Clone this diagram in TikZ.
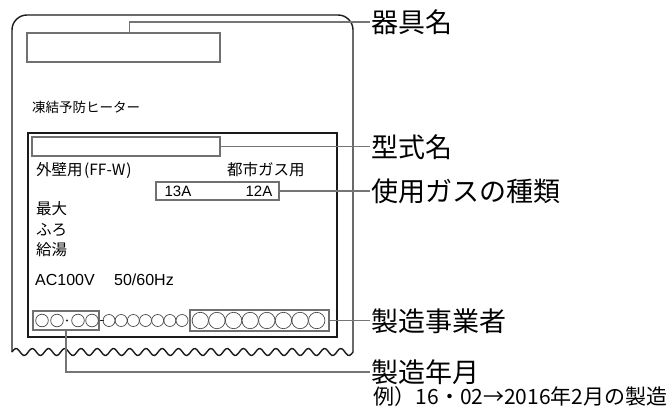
\documentclass[tikz,border=0pt]{standalone}
\usepackage{fontspec}
\setmainfont{Noto Sans CJK JP}
\newfontfamily\arial{Liberation Sans}
\usetikzlibrary{positioning}
\definecolor{ink}{HTML}{1A1A1A}
\definecolor{boxgray}{HTML}{707070}
\definecolor{leadgray}{HTML}{757575}

\begin{document}
\begin{tikzpicture}[x=1pt, y=-1pt,
  plate/.style = {draw=ink, line width=1.4pt},
  field/.style = {draw=boxgray, line width=1.2pt, inner sep=0pt},
  lead/.style = {draw=leadgray, line width=1.2pt},
  dig/.style = {draw=ink!80, line width=0.7pt},
  lbl/.style = {anchor=west, inner sep=1.5pt, font=\fontsize{27}{30}\selectfont},
  small/.style = {anchor=west, inner sep=0pt, font=\fontsize{15.5}{17}\selectfont}]
\useasboundingbox (0,0) rectangle (671,412);

% plate outline with torn bottom edge
\draw[plate] (12,352) -- (12,30) arc[start angle=180, end angle=270, radius=15]
  -- (338,15) arc[start angle=270, end angle=360, radius=15] -- (353,352);
\draw[plate] plot[domain=12:353, samples=200, smooth] (\x, {352-3.5*sin(22.17*(\x-12))});
\draw[ink, line width=1.8pt] (28,133) rectangle (337,337);

% fields on the plate
\node[field, minimum width=193, minimum height=29] (namebox) at (123.5,47.5) {};
\node[small, font=\fontsize{13.5}{15}\selectfont] (heater) at (32,107) {凍結予防ヒーター};
\node[field, minimum width=188, minimum height=19] (typebox) at (126,146.5) {};
\node[small] (wall) at (36,170) {外壁用\hspace{1.5pt}(FF-W\hspace{1pt})};
\node[small] (city) at (227,170) {都市ガス用};
\node[field, minimum width=123, minimum height=18] (gasbox) at (217.5,191) {};
\node[font=\arial\fontsize{15}{17}\selectfont] (g13) at (178,191) {13A};
\node[font=\arial\fontsize{15}{17}\selectfont] (g12) at (259,191) {12A};
\node[small] (max) at (36,209) {最大};
\node[small] (bath) at (36,230) {ふろ};
\node[small] (hot) at (36,250) {給湯};
\node[small, font=\arial\fontsize{16}{18}\selectfont] (ac) at (35,280) {AC100V};
\node[small, font=\arial\fontsize{16}{18}\selectfont] (hz) at (114,280) {50/60Hz};

% serial number row
\node[field, minimum width=66, minimum height=19] (datebox) at (66,320.5) {};
\node[field, minimum width=139, minimum height=21] (makerbox) at (259.5,320.5) {};
\foreach \cx in {42,57,78,92} \draw[dig] (\cx,320.5) circle (6.3);
\fill[ink] (67,320.5) circle (1.2);
\draw[ink, line width=1.5pt] (datebox.east) -- ++(4,0);
\foreach \i in {0,...,6} \draw[dig] (109+12.17*\i,320.5) circle (6);
\foreach \i in {0,...,7} \draw[dig] (200.3+16.63*\i,320.5) circle (8.2);

% labels
\node[lbl] (l1) at (370,22) {器具名};
\node[lbl] (l2) at (370,147) {型式名};
\node[lbl] (l3) at (370,191) {使用ガスの種類};
\node[lbl] (l4) at (370,321.5) {製造事業者};
\node[lbl] (l5) at (370,372) {製造年月};
\node[lbl, font=\fontsize{21}{23}\selectfont] (ex) at (372,397) {例）16・02→2016年2月の製造};

% leaders
\draw[lead] ([xshift=6pt]namebox.north) |- (l1.west);
\draw[lead] (typebox.east) -- (typebox.east -| l2.west);
\draw[lead] (gasbox.east) -- (gasbox.east -| l3.west);
\draw[lead] (makerbox.east) -- (makerbox.east -| l4.west);
\draw[lead] (datebox.south) |- (l5.west);
\end{tikzpicture}
\end{document}
